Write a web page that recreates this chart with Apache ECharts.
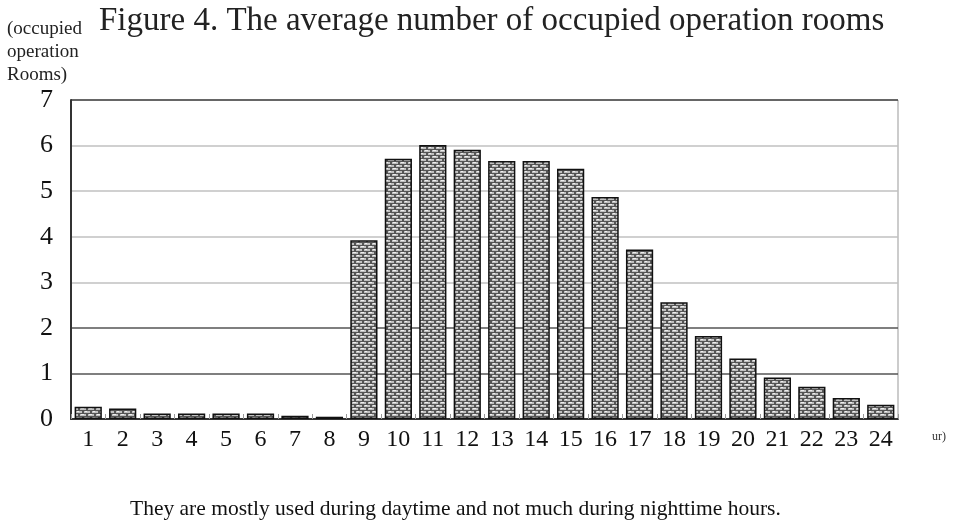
<!DOCTYPE html>
<html>
<head>
<meta charset="utf-8">
<script src="https://cdn.jsdelivr.net/npm/echarts@6/dist/echarts.min.js"></script>
<style>
  html, body { margin: 0; padding: 0; background: #fff; }
  #main { width: 955px; height: 526px; }
</style>
</head>
<body>
<div id="main"></div>
<script>
// hours of the day
let hours = ['1','2','3','4','5','6','7','8','9','10','11','12','13','14','15','16','17','18','19','20','21','22','23','24'];
// average number of occupied operation rooms per hour
let rooms = [0.27,0.23,0.12,0.12,0.12,0.12,0.07,0.05,3.92,5.71,6.01,5.91,5.66,5.66,5.49,4.87,3.72,2.56,1.82,1.33,0.91,0.71,0.46,0.31];

let chart = echarts.init(document.getElementById('main'), null, {renderer: 'canvas'});

// brick fill for the bars
function brickPattern() {
    let c = document.createElement('canvas');
    c.width = 8;
    c.height = 6;
    let ctx = c.getContext('2d');
    ctx.fillStyle = '#555555';
    ctx.fillRect(0, 0, 8, 6);
    ctx.fillStyle = '#c0c0c0';
    ctx.fillRect(0, 0, 6, 2);
    ctx.fillRect(4, 3, 6, 2);
    ctx.fillRect(-4, 3, 6, 2);
    ctx.fillStyle = '#eeeeee';
    ctx.fillRect(1, 0, 3, 1);
    ctx.fillRect(5, 3, 2, 1);
    return c;
}

let serif = '"Liberation Serif", "DejaVu Serif", serif';

let option = {
    animation: false,
    title: {
        text: 'Figure 4. The average number of occupied operation rooms',
        left: 94,
        top: 0,
        textStyle: {fontFamily: serif, fontWeight: 'normal', fontSize: 33, color: '#222'}
    },
    graphic: [
        {
            type: 'text', left: 7, top: 18,
            style: {text: '(occupied\noperation\nRooms)', font: '19px ' + serif, fill: '#222', lineHeight: 23}
        },
        {
            type: 'text', left: 932, top: 431,
            style: {text: 'ur)', font: '12px ' + serif, fill: '#333'}
        },
        {
            type: 'text', left: 130, top: 498,
            style: {text: 'They are mostly used during daytime and not much during nighttime hours.', font: '21.5px ' + serif, fill: '#111'}
        }
    ],
    grid: {
        left: 71, right: 57, top: 100, bottom: 107,
        show: true, borderColor: '#999', borderWidth: 1
    },
    xAxis: {
        type: 'category',
        data: hours,
        axisLine: {lineStyle: {color: '#333', width: 2}},
        axisTick: {show: true, inside: true, length: 5, lineStyle: {color: '#999'}},
        axisLabel: {fontFamily: serif, fontSize: 24, color: '#111', margin: 9}
    },
    yAxis: {
        type: 'value',
        min: 0, max: 7, interval: 1,
        axisLine: {show: true, lineStyle: {color: '#333', width: 2}},
        axisTick: {show: false},
        axisLabel: {fontFamily: serif, fontSize: 26, color: '#111', margin: 18},
        splitLine: {lineStyle: {color: ['#444','#555','#555','#c0c0c0','#c0c0c0','#c0c0c0','#c0c0c0','#444'], width: 1.5}}
    },
    series: [{
        type: 'bar',
        data: rooms,
        barCategoryGap: '21%',
        itemStyle: {
            color: {image: brickPattern(), repeat: 'repeat'},
            borderColor: '#111',
            borderWidth: 1.5
        }
    }]
};
chart.setOption(option);
window.addEventListener('resize', function () {chart.resize();});
</script>
</body>
</html>
